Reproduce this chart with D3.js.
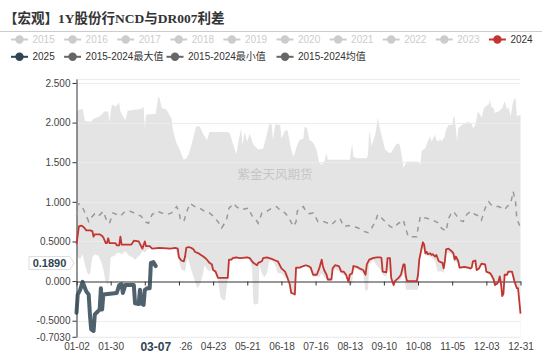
<!DOCTYPE html>
<html><head><meta charset="utf-8">
<script src="https://cdn.jsdelivr.net/npm/d3@7/dist/d3.min.js"></script>
<style>html,body{margin:0;padding:0;background:#fff;overflow:hidden}</style>
</head><body>
<svg id="c" width="550" height="356"></svg>
<script>
// ---------- DATA ----------
// categories: calendar days 01-02 .. 12-31 (leap-year calendar)
const dates = d3.timeDay.range(new Date(2024, 0, 2), new Date(2025, 0, 1)).map(d3.timeFormat("%m-%d"));
const xTickLabels = ["01-02","01-30","02-27","03-26","04-23","05-21","06-18","07-16","08-13","09-10","10-08","11-05","12-03","12-31"];
const yTicks = [2.5, 2, 1.5, 1, 0.5, 0, -0.5, -0.703];
const yTickLabels = ["2.500","2.000","1.500","1.000","0.5000","0.000","-0.5000","-0.7030"];
const yMin = -0.703, yMax = 2.55;
const pointerDate = "03-07", pointerValue = 0.1890;

const legendRow1 = ["2015","2016","2017","2018","2019","2020","2021","2022","2023","2024"];
const legendRow2 = ["2025","2015-2024最大值","2015-2024最小值","2015-2024均值"];

// series: [category index, value]
const maxVals = [[0,2.1],[1,2.16],[5,2.17],[7,2.02],[12,2.01],[14,2.05],[19,2.08],[23,2.14],[26,2.14],[27,2.01],[29,2.23],[32,2.2],[35,2.25],[36,2.14],[40,2.03],[42,2.15],[53,2.17],[55,2.2],[56,1.93],[57,2.1],[65,2.11],[67,2.33],[68,2.31],[70,2.18],[73,2.17],[75,2.13],[78,2.05],[79,1.91],[82,1.74],[84,1.68],[86,1.6],[88,1.53],[90,1.55],[92,1.6],[95,1.76],[98,1.95],[101,1.95],[104,1.85],[107,1.78],[109,1.88],[124,1.88],[126,1.86],[128,1.74],[131,1.6],[133,1.78],[135,1.93],[136,1.72],[138,1.88],[140,1.76],[142,1.86],[145,1.72],[149,1.66],[153,1.67],[156,1.85],[158,1.98],[160,1.98],[161,1.78],[163,1.98],[167,1.97],[168,1.80],[171,1.90],[173,1.9],[176,1.66],[178,1.57],[181,1.72],[183,1.78],[186,1.80],[187,1.95],[189,1.93],[191,1.78],[193,1.76],[195,1.72],[197,1.64],[199,1.49],[201,1.47],[203,1.5],[205,1.62],[206,1.53],[224,1.53],[226,1.74],[227,1.57],[230,1.55],[238,1.55],[239,1.59],[240,1.91],[242,1.70],[243,1.76],[245,1.85],[247,2.06],[249,1.91],[251,1.78],[253,1.66],[256,1.62],[258,1.62],[261,1.70],[263,1.74],[265,1.72],[267,1.55],[268,1.43],[271,1.51],[280,1.51],[282,1.47],[283,1.64],[286,1.68],[288,1.76],[290,1.83],[291,1.76],[294,1.85],[295,1.78],[297,1.76],[298,1.80],[299,1.76],[301,1.80],[302,1.83],[303,1.91],[305,1.97],[308,1.97],[309,2.06],[310,2.08],[312,1.76],[313,1.93],[316,1.97],[318,1.99],[321,2.01],[324,1.99],[325,1.93],[327,1.97],[329,2.14],[331,2.10],[332,2.06],[334,2.18],[335,2.2],[338,2.23],[339,2.29],[340,2.2],[342,2.18],[343,2.12],[346,2.14],[349,2.18],[351,2.27],[353,2.16],[354,2.2],[356,2.08],[358,2.27],[360,2.31],[361,2.08],[364,2.1]];

const minVals = [[0,0.45],[1,0.3],[3,0.28],[5,0.34],[7,0.2],[9,0.1],[11,0.08],[12,0.2],[13,0.3],[15,0.34],[18,0.32],[20,0.25],[22,0.15],[24,-0.02],[26,-0.05],[27,0.05],[28,0.3],[31,0.32],[34,0.36],[37,0.34],[40,0.38],[43,0.32],[46,0.3],[48,0.27],[50,0.3],[52,0.33],[54,0.38],[56,0.36],[58,0.4],[60,0.41],[62,0.41],[68,0.42],[77,0.41],[81,0.42],[83,0.3],[86,0.15],[89,0.12],[91,0.3],[93,0.2],[95,0.1],[97,0.0],[99,-0.09],[101,-0.05],[103,0.05],[105,0.2],[107,0.15],[109,0.12],[111,0.15],[112,0.12],[114,0.1],[116,0.03],[118,-0.2],[120,-0.24],[122,-0.24],[123,-0.1],[124,0.03],[125,0.25],[128,0.28],[131,0.28],[134,0.28],[140,0.29],[142,0.27],[144,0.15],[145,-0.28],[147,-0.30],[149,-0.28],[150,0.2],[152,0.1],[154,0.05],[156,0.1],[158,0.25],[160,0.27],[163,0.2],[165,0.1],[168,0.1],[171,0.05],[173,0.02],[175,-0.06],[176,-0.15],[178,-0.16],[179,-0.18],[180,0.15],[183,0.16],[186,0.18],[188,0.19],[190,0.18],[192,0.12],[194,0.05],[197,0.06],[199,0.05],[201,0.1],[203,0.05],[205,0.02],[206,0.0],[209,0.0],[210,0.12],[212,0.15],[216,0.12],[217,0.1],[221,0.06],[223,-0.03],[224,-0.05],[226,-0.03],[227,0.15],[230,0.15],[235,0.1],[237,-0.13],[239,-0.1],[240,0.2],[243,0.27],[246,0.2],[249,0.15],[251,0.08],[254,0.05],[255,0.15],[257,0.1],[258,0.0],[260,-0.08],[261,-0.03],[264,0.0],[266,0.02],[268,0.1],[269,0.05],[270,-0.11],[280,-0.11],[281,0.2],[283,0.38],[284,0.42],[286,0.32],[288,0.32],[291,0.3],[294,0.25],[296,0.12],[300,0.12],[301,0.1],[302,0.2],[303,0.35],[305,0.36],[308,0.33],[310,0.25],[313,0.22],[314,0.15],[318,0.16],[321,0.15],[323,0.14],[325,0.22],[327,0.22],[328,0.12],[330,0.14],[332,0.2],[335,0.19],[336,0.1],[339,0.08],[340,0.06],[342,0.0],[343,-0.06],[345,-0.04],[346,-0.02],[347,0.04],[348,-0.05],[349,-0.2],[350,-0.17],[351,0.06],[353,0.06],[354,0.1],[357,0.1],[358,0.04],[359,-0.02],[361,-0.1],[363,-0.1],[364,-0.43]];

const avgVals = [[0,0.82],[1,0.98],[4,0.96],[7,0.86],[10,0.75],[12,0.8],[15,0.85],[18,0.82],[22,0.88],[25,0.75],[27,0.73],[30,0.86],[33,0.84],[36,0.82],[40,0.88],[44,0.88],[47,0.86],[49,0.84],[53,0.82],[56,0.75],[59,0.73],[62,0.84],[66,0.88],[70,0.86],[74,0.84],[78,0.86],[82,0.94],[84,0.88],[85,0.79],[88,0.75],[90,0.86],[93,0.98],[97,0.94],[101,0.92],[105,0.88],[109,0.86],[112,0.82],[116,0.75],[119,0.67],[123,0.77],[125,0.92],[129,0.98],[131,0.94],[135,0.90],[141,0.92],[144,0.82],[146,0.8],[149,0.73],[152,0.86],[156,0.88],[160,0.92],[164,0.94],[168,0.88],[171,0.86],[174,0.80],[176,0.74],[178,0.69],[180,0.75],[181,0.88],[183,0.92],[186,0.94],[188,0.88],[191,0.85],[194,0.86],[198,0.75],[203,0.75],[206,0.73],[209,0.71],[213,0.77],[216,0.79],[219,0.69],[223,0.70],[227,0.69],[231,0.67],[235,0.63],[239,0.61],[242,0.67],[245,0.75],[247,0.84],[250,0.80],[253,0.75],[257,0.69],[260,0.67],[264,0.73],[267,0.75],[268,0.77],[269,0.71],[272,0.56],[279,0.56],[280,0.67],[282,0.82],[285,0.80],[288,0.79],[292,0.77],[297,0.73],[299,0.67],[303,0.63],[305,0.79],[308,0.88],[310,0.86],[314,0.77],[317,0.75],[320,0.84],[323,0.88],[327,0.84],[330,0.82],[332,0.77],[335,0.92],[338,1.0],[340,0.96],[343,0.94],[346,0.94],[349,0.92],[351,0.90],[353,0.94],[356,0.98],[358,1.13],[360,0.99],[361,0.79],[364,0.67]];

const s2024 = [[0,0.47],[2,0.69],[4,0.70],[6,0.68],[8,0.64],[11,0.64],[13,0.63],[14,0.56],[15,0.59],[19,0.59],[21,0.57],[22,0.55],[24,0.48],[25,0.48],[26,0.54],[27,0.48],[32,0.48],[33,0.45],[35,0.45],[36,0.56],[37,0.46],[45,0.46],[47,0.51],[51,0.50],[53,0.44],[54,0.41],[56,0.50],[57,0.44],[60,0.44],[62,0.41],[68,0.42],[77,0.41],[81,0.42],[83,0.41],[84,0.30],[86,0.26],[88,0.25],[89,0.31],[90,0.42],[92,0.43],[94,0.42],[96,0.40],[97,0.37],[100,0.35],[102,0.33],[104,0.31],[107,0.27],[109,0.23],[111,0.21],[112,0.14],[114,0.12],[116,0.04],[124,0.04],[125,0.27],[127,0.27],[128,0.29],[131,0.30],[134,0.29],[140,0.30],[142,0.29],[143,0.27],[145,0.23],[148,0.20],[149,0.23],[152,0.25],[153,0.29],[156,0.30],[160,0.28],[163,0.26],[165,0.25],[168,0.16],[171,0.12],[173,0.04],[175,-0.05],[176,-0.15],[178,-0.16],[179,-0.17],[180,0.17],[183,0.17],[186,0.19],[188,0.20],[190,0.19],[192,0.17],[194,0.08],[197,0.08],[199,0.16],[201,0.27],[202,0.19],[203,0.14],[205,0.08],[206,0.02],[209,0.02],[210,0.16],[212,0.20],[215,0.19],[216,0.16],[217,0.12],[219,0.12],[221,0.08],[223,-0.01],[224,0.08],[226,0.10],[227,0.19],[230,0.18],[232,0.16],[235,0.14],[237,0.08],[238,0.21],[240,0.27],[243,0.29],[246,0.30],[249,0.30],[250,0.29],[251,0.12],[254,0.11],[255,0.29],[257,0.29],[258,0.04],[260,-0.05],[261,0.0],[264,0.04],[266,0.08],[268,0.21],[269,0.21],[270,0.06],[271,0.0],[279,0.0],[280,0.08],[281,0.27],[283,0.42],[284,0.49],[285,0.46],[286,0.35],[287,0.37],[288,0.34],[290,0.35],[291,0.33],[292,0.34],[294,0.31],[295,0.33],[297,0.25],[300,0.23],[301,0.16],[302,0.25],[303,0.40],[305,0.41],[308,0.37],[309,0.35],[310,0.27],[311,0.31],[313,0.25],[314,0.17],[318,0.18],[321,0.17],[323,0.16],[324,0.17],[325,0.25],[327,0.26],[328,0.14],[330,0.16],[332,0.22],[335,0.21],[336,0.12],[339,0.10],[340,0.08],[342,0.02],[343,-0.05],[345,-0.03],[346,0.0],[347,0.06],[348,-0.03],[349,-0.19],[350,-0.16],[351,0.08],[353,0.08],[354,0.12],[357,0.12],[358,0.06],[359,0.0],[361,-0.09],[362,-0.09],[364,-0.41]];

const s2025 = [[0,-0.40],[1,-0.17],[3,-0.11],[5,-0.01],[6,-0.05],[8,-0.13],[10,-0.17],[11,-0.42],[12,-0.61],[14,-0.63],[15,-0.42],[17,-0.39],[19,-0.36],[20,-0.09],[21,-0.36],[22,-0.17],[33,-0.15],[35,-0.05],[37,-0.04],[38,-0.15],[40,-0.05],[47,-0.05],[48,-0.28],[51,-0.29],[52,-0.11],[53,-0.28],[55,-0.30],[56,-0.11],[58,-0.09],[60,-0.09],[61,0.23],[63,0.24],[65,0.189]];

// ---------- DRAW ----------
const FONT = '"Liberation Sans","Noto Sans CJK SC",sans-serif';
const svg = d3.select("#c");
svg.append("rect").attr("width",550).attr("height",356).attr("fill","#fff");

const x = d3.scalePoint().domain(dates).range([76.5, 520.5]);
const y = d3.scaleLinear().domain([yMin, yMax]).range([336.8, 79]);
const X = p => x(dates[p[0]]);
const Y = p => y(p[1]);
const bottom = y(yMin);
const px = x(pointerDate);

// title
svg.append("text").attr("x",4).attr("y",23)
  .attr("font-family",'"Liberation Serif","Noto Sans CJK SC",serif')
  .attr("font-weight","bold").attr("font-size",13.5).attr("fill","#333")
  .text("【宏观】1Y股份行NCD与DR007利差");
svg.append("line").attr("x1",0).attr("x2",542).attr("y1",31.5).attr("y2",31.5)
  .attr("stroke","#ccc").attr("stroke-width",1);

// legend
const rowColors1 = legendRow1.map(n => n === "2024" ? "#c23531" : "#ccc");
const rowText1 = legendRow1.map(n => n === "2024" ? "#333" : "#ccc");
const rowColors2 = ["#2f4554","#666","#666","#666"];
const row1X = legendRow1.map((d,i) => 19.5 + i*53.1);
const row2X = [19.5, 72.6, 175, 285];
function legendItem(cx, cy, color, tcolor, label){
  const g = svg.append("g");
  g.append("line").attr("x1",cx-8.5).attr("x2",cx+8.5).attr("y1",cy).attr("y2",cy)
    .attr("stroke",color).attr("stroke-width",2);
  g.append("circle").attr("cx",cx).attr("cy",cy).attr("r",4.2).attr("fill",color);
  g.append("text").attr("x",cx+13).attr("y",cy+3.6).attr("font-family",FONT)
    .attr("font-size",10).attr("fill",tcolor).text(label);
}
legendRow1.forEach((n,i)=>legendItem(row1X[i],39.5,rowColors1[i],rowText1[i],n));
legendRow2.forEach((n,i)=>legendItem(row2X[i],56.8,rowColors2[i],"#333",n));

// band: max area then white min area
svg.append("path").datum(maxVals)
  .attr("d", d3.area().x(X).y0(bottom).y1(Y)).attr("fill","#e4e4e4");
svg.append("path").datum(minVals)
  .attr("d", d3.area().x(X).y0(bottom).y1(Y)).attr("fill","#fff");

// grid lines
const gridVals = [yMax].concat(yTicks.filter(v => v !== 0));
svg.append("g").selectAll("line").data(gridVals).join("line")
  .attr("x1",76.5).attr("x2",520.5).attr("y1",d=>Math.round(y(d))+0.5).attr("y2",d=>Math.round(y(d))+0.5)
  .attr("stroke","#ececec").attr("stroke-width",1);

// watermark
svg.append("text").attr("x",275).attr("y",178.5).attr("text-anchor","middle")
  .attr("font-family",'"Noto Sans CJK SC",sans-serif').attr("font-size",12.5)
  .attr("fill","#c6c6c6").text("紫金天风期货");

// y axis
const yAxis = svg.append("g").attr("transform","translate(76.5,0)")
  .call(d3.axisLeft(y).tickValues(yTicks).tickFormat((d,i)=>yTickLabels[i]).tickSize(4).tickSizeOuter(0).tickPadding(2));
yAxis.select(".domain").attr("stroke","#333");
yAxis.selectAll(".tick line").attr("stroke","#333");
yAxis.selectAll("text").attr("font-family",FONT).attr("font-size",10).attr("fill","#444");

// x axis line at zero with ticks
const xAxis0 = svg.append("g").attr("transform",`translate(0,${Math.round(y(0))+0.5})`)
  .call(d3.axisBottom(x).tickValues(xTickLabels).tickSize(4).tickSizeOuter(0).tickFormat(""));
xAxis0.select(".domain").attr("stroke","#333");
xAxis0.selectAll(".tick line").attr("stroke","#333");

// x labels at bottom (labels fully covered by the pointer label are not drawn)
const xAxisB = svg.append("g").attr("transform",`translate(0,${bottom})`)
  .call(d3.axisBottom(x).tickValues(xTickLabels).tickSize(0).tickPadding(6));
xAxisB.select(".domain").remove();
xAxisB.selectAll("text").attr("font-family",FONT).attr("font-size",10).attr("fill","#444");
xAxisB.selectAll(".tick").filter(d => Math.abs(x(d) - px) < 20).remove();

// series lines
svg.append("path").datum(avgVals)
  .attr("d", d3.line().x(X).y(Y)).attr("fill","none")
  .attr("stroke","#999").attr("stroke-width",1.5).attr("stroke-dasharray","5,5");
svg.append("path").datum(s2024)
  .attr("d", d3.line().x(X).y(Y)).attr("fill","none")
  .attr("stroke","#c23531").attr("stroke-width",1.8).attr("stroke-linejoin","round");
svg.append("path").datum(s2025)
  .attr("d", d3.line().x(X).y(Y)).attr("fill","none")
  .attr("stroke","#2f4554").attr("stroke-width",4).attr("stroke-linejoin","round").attr("stroke-linecap","round").attr("opacity",0.85);

// axis pointer labels
svg.append("rect").attr("x",px-24).attr("y",bottom+1.5).attr("width",48).attr("height",18).attr("fill","#fff");
svg.append("text").attr("x",px).attr("y",bottom+14.5).attr("text-anchor","middle")
  .attr("font-family",FONT).attr("font-weight","bold").attr("font-size",12).attr("fill","#2f4554").text(pointerDate);

const py = y(pointerValue) - 3;
const bx0 = 29, bx1 = 70, bh = 13;
svg.append("path")
  .attr("d",`M${bx0},${py-bh/2}H${bx1}L${bx1+4},${py}L${bx1},${py+bh/2}H${bx0}Z`)
  .attr("fill","#fff").attr("stroke","#ddd").attr("stroke-width",1);
svg.append("text").attr("x",(bx0+bx1)/2).attr("y",py+4).attr("text-anchor","middle")
  .attr("font-family",FONT).attr("font-weight","bold").attr("font-size",11).attr("fill","#2f4554")
  .text(pointerValue.toFixed(4));
</script>
</body></html>
